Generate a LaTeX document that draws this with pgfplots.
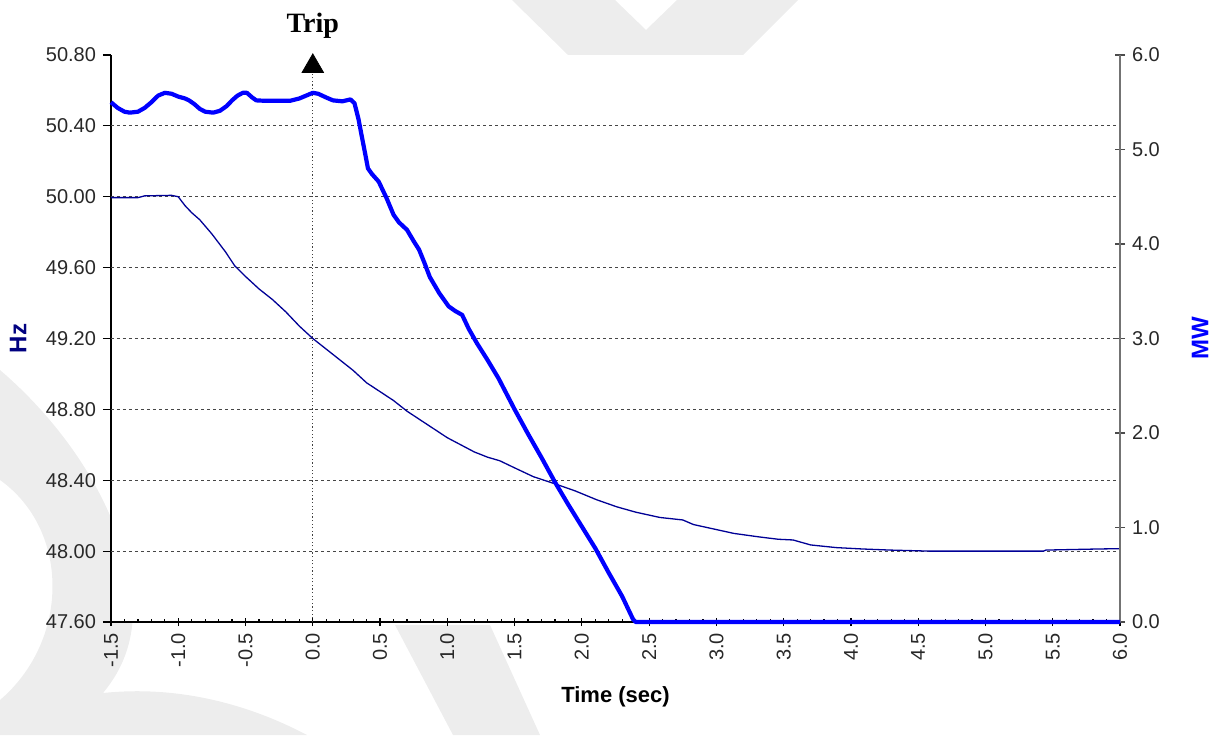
\documentclass[border=0pt]{standalone}
\usepackage{fontspec}
\setmainfont{Liberation Sans}
\newfontfamily\seriffont{Liberation Serif}
\usepackage{pgfplots}
\pgfplotsset{compat=1.18}

\definecolor{hzline}{RGB}{0,0,150}
\definecolor{mwline}{RGB}{0,0,255}
\definecolor{hzlabel}{RGB}{0,0,128}
\definecolor{wm}{RGB}{237,237,237}
\definecolor{ticktext}{RGB}{40,40,40}
\definecolor{gridgray}{RGB}{70,70,70}

% Frequency record (Hz)
\pgfplotstableread{
t f
-1.50 49.995
-1.30 49.995
-1.25 50.005
-1.05 50.008
-1.00 50.000
-0.95 49.950
-0.90 49.910
-0.84 49.870
-0.75 49.790
-0.65 49.690
-0.58 49.610
-0.50 49.550
-0.40 49.480
-0.30 49.420
-0.20 49.350
-0.10 49.270
0.00 49.200
0.10 49.140
0.20 49.080
0.30 49.020
0.40 48.950
0.50 48.900
0.60 48.850
0.70 48.790
0.80 48.740
0.90 48.690
1.00 48.640
1.10 48.600
1.20 48.560
1.30 48.530
1.39 48.510
1.50 48.470
1.64 48.420
1.80 48.380
1.95 48.340
2.11 48.290
2.26 48.250
2.40 48.220
2.58 48.190
2.75 48.176
2.83 48.150
2.95 48.130
3.13 48.100
3.32 48.080
3.46 48.067
3.57 48.063
3.70 48.035
3.89 48.020
4.09 48.012
4.29 48.006
4.59 48.000
5.43 48.000
5.45 48.006
5.83 48.012
6.00 48.014
}\hzdata

% Active power record (MW)
\pgfplotstableread{
t p
-1.50 5.50
-1.45 5.44
-1.40 5.40
-1.36 5.39
-1.30 5.40
-1.25 5.44
-1.20 5.50
-1.15 5.57
-1.10 5.60
-1.05 5.59
-1.00 5.56
-0.95 5.54
-0.92 5.52
-0.88 5.48
-0.84 5.43
-0.80 5.40
-0.74 5.39
-0.69 5.41
-0.64 5.46
-0.60 5.52
-0.56 5.57
-0.52 5.60
-0.49 5.60
-0.45 5.55
-0.42 5.52
-0.35 5.515
-0.17 5.515
-0.10 5.54
-0.05 5.57
0.00 5.60
0.04 5.59
0.10 5.55
0.15 5.52
0.22 5.51
0.25 5.52
0.28 5.53
0.31 5.49
0.34 5.32
0.36 5.17
0.39 4.95
0.41 4.80
0.44 4.74
0.49 4.66
0.55 4.48
0.60 4.31
0.64 4.23
0.70 4.15
0.75 4.03
0.79 3.94
0.83 3.80
0.87 3.65
0.94 3.48
1.01 3.34
1.06 3.29
1.11 3.25
1.16 3.10
1.22 2.95
1.30 2.77
1.38 2.58
1.50 2.25
1.60 1.99
1.70 1.74
1.80 1.48
1.90 1.24
2.00 1.01
2.10 0.78
2.20 0.52
2.30 0.27
2.38 0.03
2.40 0.00
6.00 0.00
}\mwdata

\begin{document}
\begin{tikzpicture}
% page frame and faint background emblem (units of half a point)
\begin{scope}[shift={(-55.5pt,311pt)},x=0.5pt,y=-0.5pt]
  \path[use as bounding box] (0,0) rectangle (1224,735);
  \fill[wm] (512,0) -- (568,55) -- (743,55) -- (798,0) -- (677,0) -- (646,30) -- (615,0) -- cycle;
  \fill[wm] (0,370) .. controls (70,430) and (130,520) .. (133,613)
        .. controls (132,650) and (118,675) .. (103,693)
        .. controls (180,685) and (250,705) .. (307,735)
        -- (0,735) -- (0,700)
        .. controls (70,640) and (70,530) .. (0,480) -- cycle;
  \fill[wm] (395,625) -- (453,735) -- (540,735) -- (490,625) -- cycle;
\end{scope}

% frequency, left axis
\begin{axis}[
  scale only axis, width=504.5pt, height=283.5pt,
  at={(0,0)}, anchor=south west,
  clip=false,
  axis background/.style={fill=white},
  xmin=-1.5, xmax=6, ymin=47.6, ymax=50.8,
  axis x line*=bottom, axis y line*=left,
  axis line style={-, black, line width=0.6pt},
  xtick={-1.5,-1,-0.5,0,0.5,1,1.5,2,2.5,3,3.5,4,4.5,5,5.5,6},
  xticklabels={-1.5,-1.0,-0.5,0.0,0.5,1.0,1.5,2.0,2.5,3.0,3.5,4.0,4.5,5.0,5.5,6.0},
  minor x tick num=4,
  ytick={47.6,48,48.4,48.8,49.2,49.6,50,50.4,50.8},
  yticklabels={47.60,48.00,48.40,48.80,49.20,49.60,50.00,50.40,50.80},
  extra y ticks={48,48.4,48.8,49.2,49.6,50,50.4},
  extra y tick labels={},
  extra y tick style={grid=major, major tick length=0pt},
  grid style={gridgray, line width=0.55pt, dash pattern=on 1.6pt off 1.4pt},
  xtick align=center, ytick align=outside,
  major tick length=4pt, minor tick length=1.7pt,
  every minor tick/.append style={yshift=0.85pt},
  tick style={black, line width=0.6pt},
  xticklabel style={rotate=90, anchor=east, font=\fontsize{10}{12}\selectfont, text=ticktext},
  yticklabel style={font=\fontsize{10}{12}\selectfont, text=ticktext},
  xlabel={Time (sec)},
  xlabel style={at={(axis description cs:0.5,0)}, anchor=center, yshift=-37.5pt,
                font=\bfseries\fontsize{11}{13}\selectfont},
  ylabel={Hz},
  ylabel style={at={(axis description cs:0,0.5)}, anchor=center, yshift=46.5pt,
                font=\bfseries\fontsize{12}{14}\selectfont, text=hzlabel},
]
  \draw[black!75, line width=0.55pt, dash pattern=on 0.6pt off 1.2pt]
    (axis cs:0,47.6) -- (axis cs:0,50.8);
  \addplot[hzline, line width=0.65pt] table[x=t, y=f] {\hzdata};
  \addplot[only marks, mark=triangle*, mark size=6.2pt, black] coordinates {(0,50.736)};
  \node[font=\seriffont\bfseries\fontsize{14}{16}\selectfont] at (axis cs:0,50.8) [yshift=14.5pt] {Trip};
\end{axis}

% active power, right axis
\begin{axis}[
  scale only axis, width=504.5pt, height=283.5pt,
  at={(0,0)}, anchor=south west,
  clip=false,
  xmin=-1.5, xmax=6, ymin=0, ymax=6,
  axis x line=none, axis y line*=right,
  axis line style={-, black!55, line width=0.6pt},
  ytick={0,1,2,3,4,5,6},
  yticklabels={0.0,1.0,2.0,3.0,4.0,5.0,6.0},
  ytick align=center, major tick length=5pt,
  tick style={black!70, line width=0.6pt},
  yticklabel style={font=\fontsize{10}{12}\selectfont, text=ticktext},
  ylabel={MW},
  ylabel style={at={(axis description cs:1,0.5)}, anchor=center, yshift=-40pt,
                font=\bfseries\fontsize{12}{14}\selectfont, text=mwline},
]
  \addplot[mwline, line width=2.1pt, line join=round] table[x=t, y=p] {\mwdata};
\end{axis}
\end{tikzpicture}
\end{document}
